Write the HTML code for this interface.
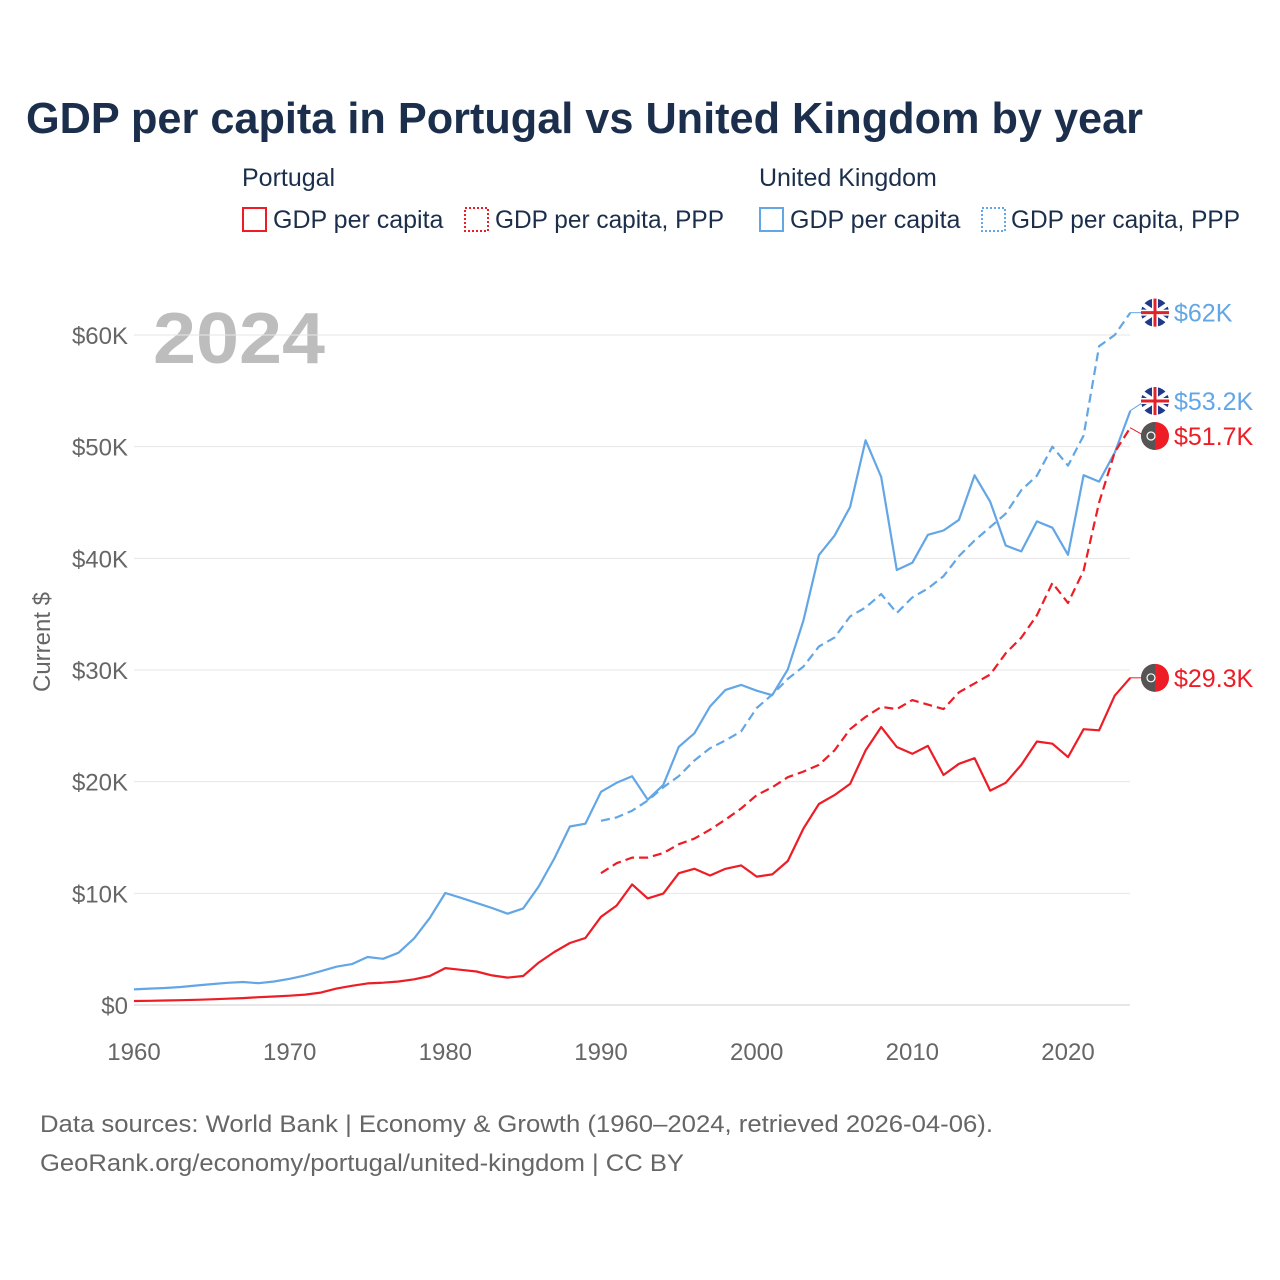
<!DOCTYPE html>
<html><head><meta charset="utf-8">
<style>
body{margin:0;background:#fff;font-family:"Liberation Sans",sans-serif;}
#wrap{position:relative;width:1280px;height:1280px;overflow:hidden;}
</style></head>
<body><div id="wrap">
<svg id="chart" width="1280" height="1280" xmlns="http://www.w3.org/2000/svg">
<text x="26" y="133" font-size="44" font-weight="bold" fill="#1b2f4d" textLength="1117" lengthAdjust="spacingAndGlyphs">GDP per capita in Portugal vs United Kingdom by year</text>
<g font-size="25" fill="#1b2f4d">
<text x="242" y="186">Portugal</text>
<text x="759" y="186">United Kingdom</text>
<g><rect x="243" y="208" width="23" height="23" fill="none" stroke="#ee1c25" stroke-width="2"/><text x="273" y="228">GDP per capita</text></g>
<g><rect x="465" y="208" width="23" height="23" fill="none" stroke="#ee1c25" stroke-width="2" stroke-dasharray="2,2"/><text x="495" y="228" textLength="229" lengthAdjust="spacingAndGlyphs">GDP per capita, PPP</text></g>
<g><rect x="760" y="208" width="23" height="23" fill="none" stroke="#63a6e6" stroke-width="2"/><text x="790" y="228">GDP per capita</text></g>
<g><rect x="982" y="208" width="23" height="23" fill="none" stroke="#63a6e6" stroke-width="2" stroke-dasharray="2,2"/><text x="1011" y="228" textLength="229" lengthAdjust="spacingAndGlyphs">GDP per capita, PPP</text></g>
</g>
<text x="153" y="363" font-size="72" font-weight="bold" fill="#bdbdbd" textLength="172" lengthAdjust="spacingAndGlyphs">2024</text>
<g id="grid"></g>
<g id="series"></g>
<g id="labels"></g>
<text transform="translate(50,642) rotate(-90)" text-anchor="middle" font-size="24" fill="#666">Current $</text>
<text x="40" y="1132" font-size="24" fill="#666" textLength="953" lengthAdjust="spacingAndGlyphs">Data sources: World Bank | Economy &amp; Growth (1960–2024, retrieved 2026-04-06).</text>
<text x="40" y="1171" font-size="24" fill="#666" textLength="644" lengthAdjust="spacingAndGlyphs">GeoRank.org/economy/portugal/united-kingdom | CC BY</text>
</svg>
<script>
const ukGdp=[1398,1472,1526,1613,1749,1874,1986,2058,1952,2100,2348,2650,3030,3426,3666,4300,4138,4681,5977,7804,10032,9599,9146,8691,8180,8652,10611,13118,15987,16239,19095,19901,20488,18389,19709,23123,24332,26734,28214,28669,28150,27744,30057,34420,40290,42030,44599,50566,47287,38952,39599,42109,42497,43450,47440,45071,41146,40622,43306,42747,40318,47447,46869,49464,53200];
const ukPpp=[16500,16800,17400,18300,19500,20500,21900,23000,23700,24500,26600,27800,29200,30300,32100,32900,34800,35600,36800,35100,36500,37300,38400,40200,41600,42800,44000,46100,47400,50000,48300,51000,59000,60000,62000];
const ptGdp=[360,380,405,430,465,510,560,620,700,760,830,935,1110,1470,1720,1930,2000,2100,2300,2600,3300,3150,3000,2650,2450,2600,3800,4750,5550,6000,7900,8900,10800,9550,9980,11800,12200,11600,12200,12500,11500,11700,12900,15800,18000,18800,19800,22800,24900,23100,22500,23200,20600,21600,22100,19200,19900,21500,23600,23400,22200,24700,24600,27700,29300];
const ptPpp=[11800,12700,13200,13200,13600,14400,14900,15700,16600,17600,18800,19500,20400,20900,21500,22800,24700,25800,26700,26500,27300,26900,26500,28000,28800,29600,31500,32900,34900,37800,36000,38900,45000,49500,51700];
const yTicks=[0,10000,20000,30000,40000,50000,60000];
const yTickLabels=["$0","$10K","$20K","$30K","$40K","$50K","$60K"];
const xTicks=[1960,1970,1980,1990,2000,2010,2020];
const endLabels=["$62K","$53.2K","$51.7K","$29.3K"];
const NS="http://www.w3.org/2000/svg";
const X=y=>134+(y-1960)*(1068-134)/60;
const Y=v=>1005-v*(1005-335)/60000;
function mk(t,a,p){const e=document.createElementNS(NS,t);for(const k in a)e.setAttribute(k,a[k]);p.appendChild(e);return e;}
const grid=document.getElementById('grid');
yTicks.forEach((v,i)=>{
 const l=mk('line',{x1:134,x2:1130,y1:Y(v),y2:Y(v),stroke:i==0?'#ccc':'#e6e6e6','stroke-width':1},grid);
 
 
 const t=mk('text',{x:128,y:Y(v)+9,'text-anchor':'end','font-size':24,fill:'#666'},grid);
 t.textContent=yTickLabels[i];
 
 
});
xTicks.forEach(y=>{
 const t=mk('text',{x:X(y),y:1060,'text-anchor':'middle','font-size':24,fill:'#666'},grid);
 t.textContent=y;
 
 
});
const ser=document.getElementById('series');
function line(arr,start,color,dash,name){
 const d=arr.map((v,i)=>(i?'L':'M')+X(start+i).toFixed(1)+','+Y(v).toFixed(1)).join('');
 const p=mk('path',{d:d,fill:'none',stroke:color,'stroke-width':2.2,'stroke-linejoin':'round'},ser);
 if(dash)p.setAttribute('stroke-dasharray','9,5');
 
 
}
line(ukGdp,1960,'#63a6e6',false,'line-uk-gdp');
line(ukPpp,1990,'#63a6e6',true,'line-uk-ppp');
line(ptGdp,1960,'#ee1c25',false,'line-portugal-gdp');
line(ptPpp,1990,'#ee1c25',true,'line-portugal-ppp');
const lab=document.getElementById('labels');
const ends=[[ukPpp[ukPpp.length-1],'#63a6e6','uk'],[ukGdp[ukGdp.length-1],'#63a6e6','uk'],[ptPpp[ptPpp.length-1],'#ee1c25','pt'],[ptGdp[ptGdp.length-1],'#ee1c25','pt']];
ends.forEach((e,i)=>{
 let y=Y(e[0]); if(i==1)y=Math.min(y,401); if(i==2)y=Math.max(y,436);
 const g=mk('g',{},lab);
 
 
 mk('line',{x1:1130,x2:1145,y1:Y(e[0]),y2:y,stroke:e[1],'stroke-width':1},g);
 if(e[2]=='uk'){
  mk('circle',{cx:1155,cy:y,r:14,fill:'#1f3a8a'},g);
  mk('path',{d:`M1143,${y-8}L1167,${y+8}M1143,${y+8}L1167,${y-8}`,stroke:'#fff','stroke-width':4},g);
  mk('path',{d:`M1155,${y-14}V${y+14}M1141,${y}H1169`,stroke:'#fff','stroke-width':6},g);
  mk('path',{d:`M1155,${y-14}V${y+14}M1141,${y}H1169`,stroke:'#e0232b','stroke-width':3},g);
 } else {
  mk('circle',{cx:1155,cy:y,r:14,fill:'#ee1c25'},g);
  mk('path',{d:`M1155,${y-14}A14,14 0 0 0 1155,${y+14}Z`,fill:'#555'},g);
  mk('circle',{cx:1151,cy:y,r:4,fill:'none',stroke:'#fff','stroke-width':1.2},g);
 }
 const t=mk('text',{x:1174,y:y+9,'font-size':25,fill:e[1]},g);
 t.textContent=endLabels[i];
});
</script>
</div></body></html>
